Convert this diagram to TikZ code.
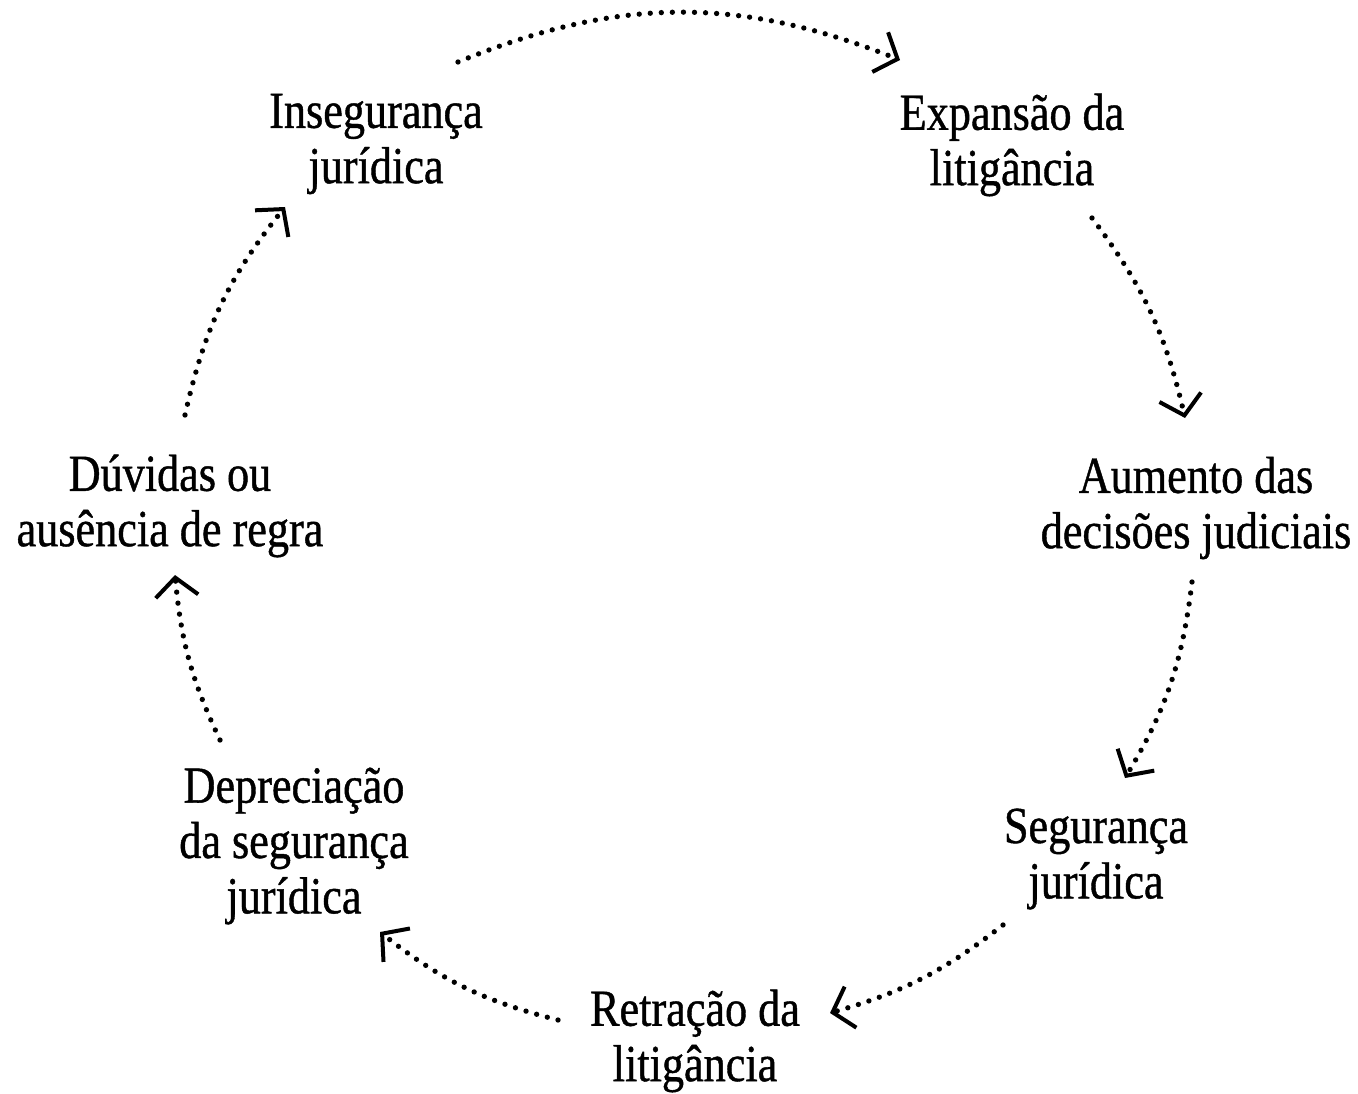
\documentclass[tikz,border=0pt]{standalone}
\usepackage{fontspec}
\setmainfont{Liberation Serif}[FakeStretch=0.85,FakeBold=0.8]
\usetikzlibrary{arrows.meta}
\tikzset{
  lbl/.style={align=center, inner sep=0pt, font=\fontsize{39}{41.5}\selectfont, text=black},
  cyc/.style={line width=4pt, line cap=round, dash pattern=on 0pt off 8.3pt,
    -{Straight Barb[length=14pt,width=32pt,line width=3pt]}},
}
\begin{document}
\begin{tikzpicture}[x=0.75pt,y=-0.75pt]
\useasboundingbox (0,0) rectangle (1358,1094);
\node[lbl] (ins) at (376,144) {Insegurança\\jurídica};
\node[lbl] (exp) at (1012,145) {Expansão da\\litigância};
\node[lbl] (aum) at (1196,508) {Aumento das\\decisões judiciais};
\node[lbl] (seg) at (1096,859) {Segurança\\jurídica};
\node[lbl] (ret) at (695,1041) {Retração da\\litigância};
\node[lbl] (dep) at (294,846) {Depreciação\\da segurança\\jurídica};
\node[lbl] (duv) at (170,506) {Dúvidas ou\\ausência de regra};

\coordinate (a1) at (458,62);  \coordinate (b1) at (900,60);
\coordinate (a2) at (1092,218); \coordinate (b2) at (1185,418);
\coordinate (a3) at (1192,582); \coordinate (b3) at (1125,778);
\coordinate (a4) at (1003,925); \coordinate (b4) at (830,1013);
\coordinate (a5) at (558,1020); \coordinate (b5) at (380,932);
\coordinate (a6) at (220,740); \coordinate (b6) at (175,575);
\coordinate (a7) at (185,415); \coordinate (b7) at (285,207);

\draw[cyc] (a1) to[bend left=22] (b1);
\draw[cyc] (a2) to[bend left=12] (b2);
\draw[cyc] (a3) to[bend left=12] (b3);
\draw[cyc] (a4) to[bend left=11] (b4);
\draw[cyc] (a5) to[bend left=12] (b5);
\draw[cyc] (a6) to[bend left=10] (b6);
\draw[cyc] (a7) to[bend left=13] (b7);
\end{tikzpicture}
\end{document}
